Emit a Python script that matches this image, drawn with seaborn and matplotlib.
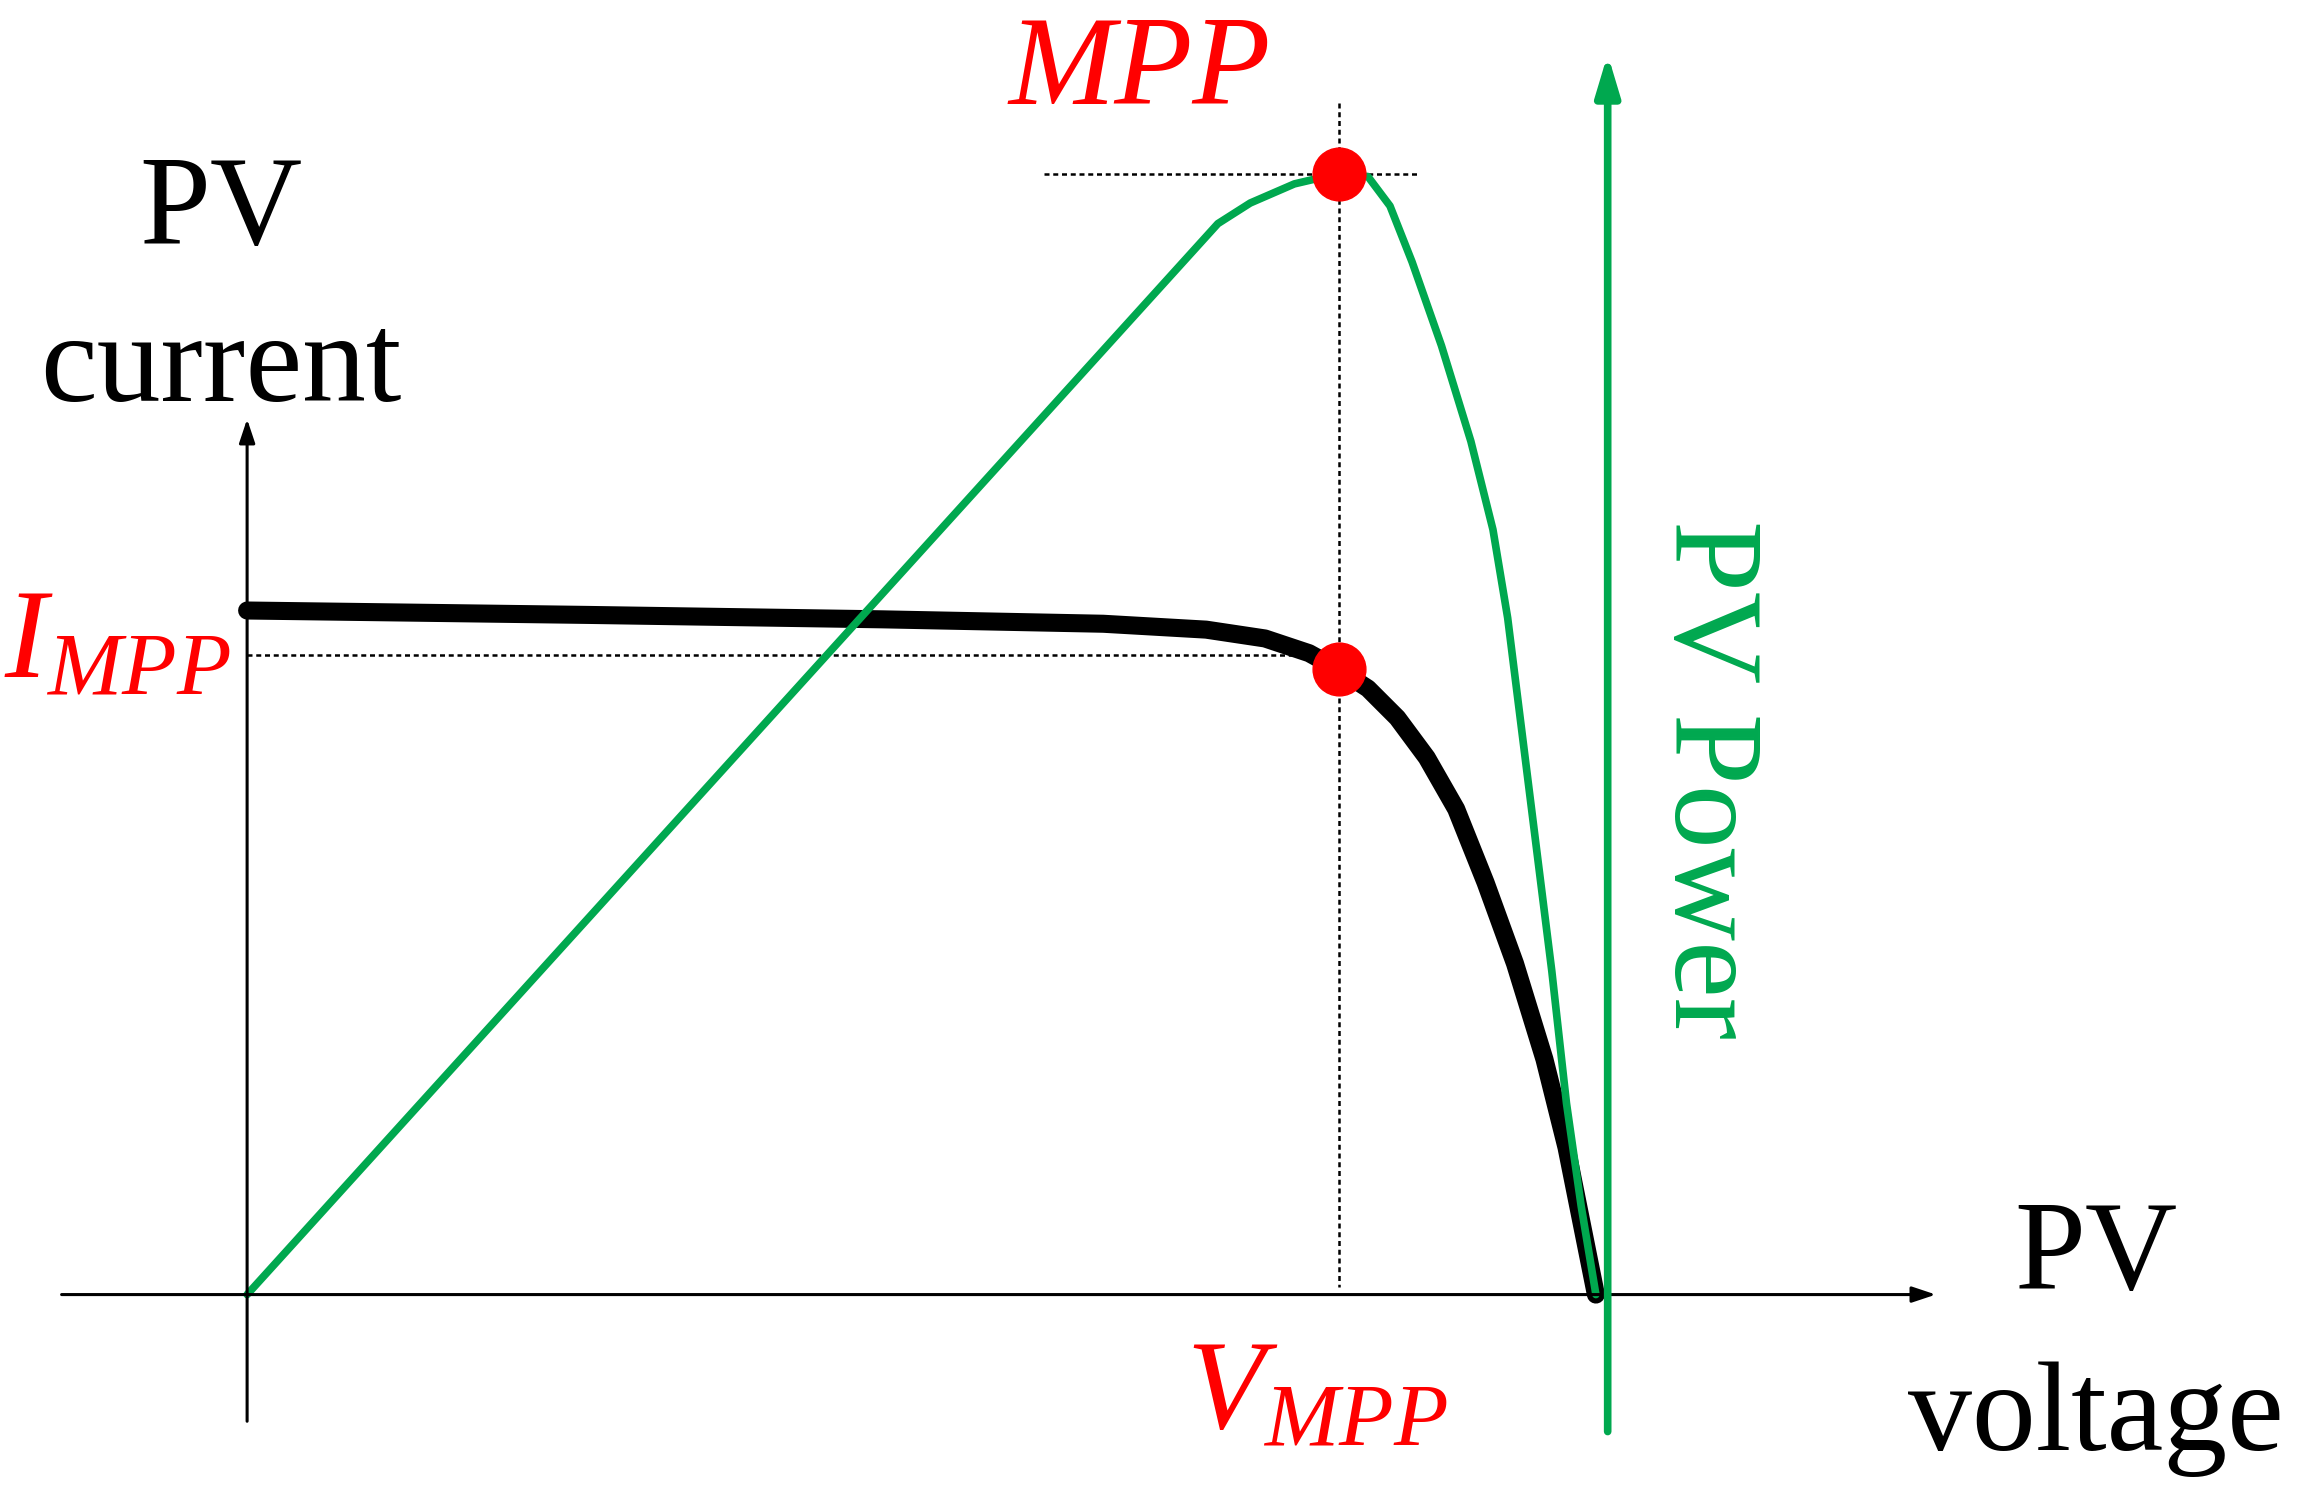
import matplotlib
matplotlib.use("Agg")
import matplotlib.pyplot as plt
import pandas as pd
import seaborn as sns

# diagram units: origin at the axes crossing
voltage_iv = [0, 232, 432, 582, 652, 692, 722, 742, 762, 782, 802, 822, 842, 862, 882, 897, 907, 917]
current_iv = [465, 462, 459, 456, 452, 446, 436, 425, 412, 392, 365, 330, 280, 225, 160, 100, 50, 0]

voltage_pv = [0, 660, 682, 712, 742, 762, 777, 792, 812, 832, 847, 857, 867, 877, 887, 897, 907, 917]
power_pv = [0, 728, 742, 755, 762, 760, 740, 702, 645, 580, 520, 460, 380, 300, 220, 130, 60, 0]

v_mpp = 742
i_mpp = 425
p_mpp = 762
i_dash = 435

sns.set_theme(style="white")
plt.rcParams["font.family"] = ["Liberation Serif", "DejaVu Serif"]
plt.rcParams["mathtext.fontset"] = "custom"
plt.rcParams["mathtext.rm"] = "Liberation Serif"
plt.rcParams["mathtext.it"] = "Liberation Serif:italic"
plt.rcParams["text.color"] = "black"

fig = plt.figure(figsize=(22.99, 15.02), dpi=100)
ax = fig.add_axes([0, 0, 1, 1])
ax.set_xlim(-168, 1395)
ax.set_ylim(-141, 880)
ax.axis("off")

GREEN = "#00a84f"

iv = pd.DataFrame({"v": voltage_iv, "i": current_iv})
pv = pd.DataFrame({"v": voltage_pv, "p": power_pv})

# dashed guides
ax.plot([542, 797], [p_mpp, p_mpp], ls=(0, (2, 1.5)), color="black", lw=1.8)
ax.plot([v_mpp, v_mpp], [810, 5], ls=(0, (2, 1.5)), color="black", lw=1.8)
ax.plot([0, v_mpp], [i_dash, i_dash], ls=(0, (2, 1.5)), color="black", lw=1.8)

# axes arrows
ax.annotate("", xy=(1150, 0), xytext=(-128, 0),
            arrowprops=dict(arrowstyle="-|>,head_length=1.2,head_width=0.4", color="black", lw=2.2))
ax.annotate("", xy=(0, 597), xytext=(0, -88),
            arrowprops=dict(arrowstyle="-|>,head_length=1.2,head_width=0.4", color="black", lw=2.2))

sns.lineplot(data=iv, x="v", y="i", sort=False, color="black", lw=13, ax=ax)
sns.lineplot(data=pv, x="v", y="p", sort=False, color=GREEN, lw=5.5, ax=ax)

# power axis arrow
ax.annotate("", xy=(925, 845), xytext=(925, -95),
            arrowprops=dict(arrowstyle="-|>,head_length=2.0,head_width=0.6", color=GREEN, lw=5.5))

ax.plot([v_mpp, v_mpp], [p_mpp, i_mpp], "o", color="#ff0000", ms=38, zorder=5)

fs = 92
ax.text(-18, 735, "PV", fontsize=fs, ha="center", va="center")
ax.text(-18, 628, "current", fontsize=fs, ha="center", va="center")
ax.text(1257, 25, "PV", fontsize=fs, ha="center", va="center")
ax.text(1257, -85, "voltage", fontsize=fs, ha="center", va="center")
ax.text(607, 830, "MPP", fontsize=fs, color="#ff0000", style="italic", ha="center", va="center")
ax.text(-88, 440, r"$I_{MPP}$", fontsize=fs, color="#ff0000", ha="center", va="center")
ax.text(727, -70, r"$V_{MPP}$", fontsize=fs, color="#ff0000", ha="center", va="center")
ax.text(992, 350, "PV Power", fontsize=fs, color=GREEN, rotation=-90, ha="center", va="center")

fig.savefig("out.png", dpi=100)
